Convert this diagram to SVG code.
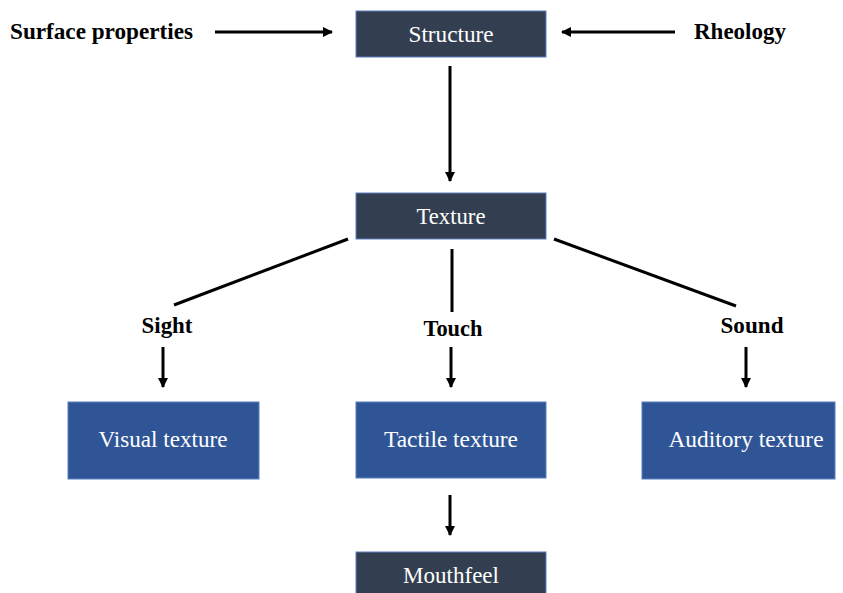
<svg xmlns="http://www.w3.org/2000/svg" width="843" height="593" viewBox="0 0 843 593">
<style>
.dark{fill:#333F50;stroke:#5B7FC0;stroke-width:1}
.blue{fill:#2F5597;stroke:#5B7FC0;stroke-width:1}
.bt{font-family:'Liberation Serif',Tinos,'Times New Roman',Times,'DejaVu Serif','Noto Serif',serif;font-size:23px;fill:#fff;text-anchor:middle}
.lb{font-family:'Liberation Serif',Tinos,'Times New Roman',Times,'DejaVu Serif','Noto Serif',serif;font-size:23px;font-weight:bold;fill:#000}
.c{stroke:#000;stroke-width:3;fill:none}
</style>
<defs>
<marker id="ah" viewBox="0 0 10 10" refX="9" refY="5" markerWidth="3.5" markerHeight="3.6" orient="auto" markerUnits="strokeWidth">
<path d="M0,0 L10,5 L0,10 z" fill="#000"/>
</marker>
</defs>
<rect width="843" height="593" fill="#fff"/>
<g id="connectors">
<line class="c" x1="215" y1="32" x2="332" y2="32" marker-end="url(#ah)"/>
<line class="c" x1="675" y1="32" x2="562" y2="32" marker-end="url(#ah)"/>
<line class="c" x1="450" y1="66" x2="450" y2="181" marker-end="url(#ah)" stroke-width="2.5"/>
<line class="c" x1="348" y1="239" x2="174" y2="305"/>
<line class="c" x1="452" y1="249" x2="452" y2="312"/>
<line class="c" x1="554" y1="239" x2="736" y2="306"/>
<line class="c" x1="163" y1="347" x2="163" y2="387" marker-end="url(#ah)"/>
<line class="c" x1="451" y1="347" x2="451" y2="387" marker-end="url(#ah)"/>
<line class="c" x1="746" y1="347" x2="746" y2="387" marker-end="url(#ah)"/>
<line class="c" x1="450" y1="495" x2="450" y2="535" marker-end="url(#ah)"/>
</g>
<g id="surface"><text class="lb" x="10" y="39" textLength="183" lengthAdjust="spacingAndGlyphs">Surface properties</text></g>
<g id="rheology"><text class="lb" x="694" y="39" textLength="92" lengthAdjust="spacingAndGlyphs">Rheology</text></g>
<g id="structure"><rect class="dark" x="356" y="11" width="190" height="46"/><text class="bt" x="451" y="42" textLength="85" lengthAdjust="spacingAndGlyphs">Structure</text></g>
<g id="texture"><rect class="dark" x="356" y="193" width="190" height="46"/><text class="bt" x="451" y="224" textLength="69" lengthAdjust="spacingAndGlyphs">Texture</text></g>
<g id="sight"><text class="lb" x="167" y="333" text-anchor="middle" textLength="51" lengthAdjust="spacingAndGlyphs">Sight</text></g>
<g id="touch"><text class="lb" x="453" y="336" text-anchor="middle" textLength="59" lengthAdjust="spacingAndGlyphs">Touch</text></g>
<g id="sound"><text class="lb" x="752" y="333" text-anchor="middle" textLength="63" lengthAdjust="spacingAndGlyphs">Sound</text></g>
<g id="visual"><rect class="blue" x="68" y="402" width="191" height="77"/><text class="bt" x="163" y="447" textLength="129" lengthAdjust="spacingAndGlyphs">Visual texture</text></g>
<g id="tactile"><rect class="blue" x="356" y="402" width="190" height="76"/><text class="bt" x="451" y="447" textLength="134" lengthAdjust="spacingAndGlyphs">Tactile texture</text></g>
<g id="auditory"><rect class="blue" x="642" y="402" width="193" height="77"/><text class="bt" x="746" y="447" textLength="155" lengthAdjust="spacingAndGlyphs">Auditory texture</text></g>
<g id="mouthfeel"><rect class="dark" x="356" y="552" width="190" height="46"/><text class="bt" x="451" y="583" textLength="96" lengthAdjust="spacingAndGlyphs">Mouthfeel</text></g>
</svg>
